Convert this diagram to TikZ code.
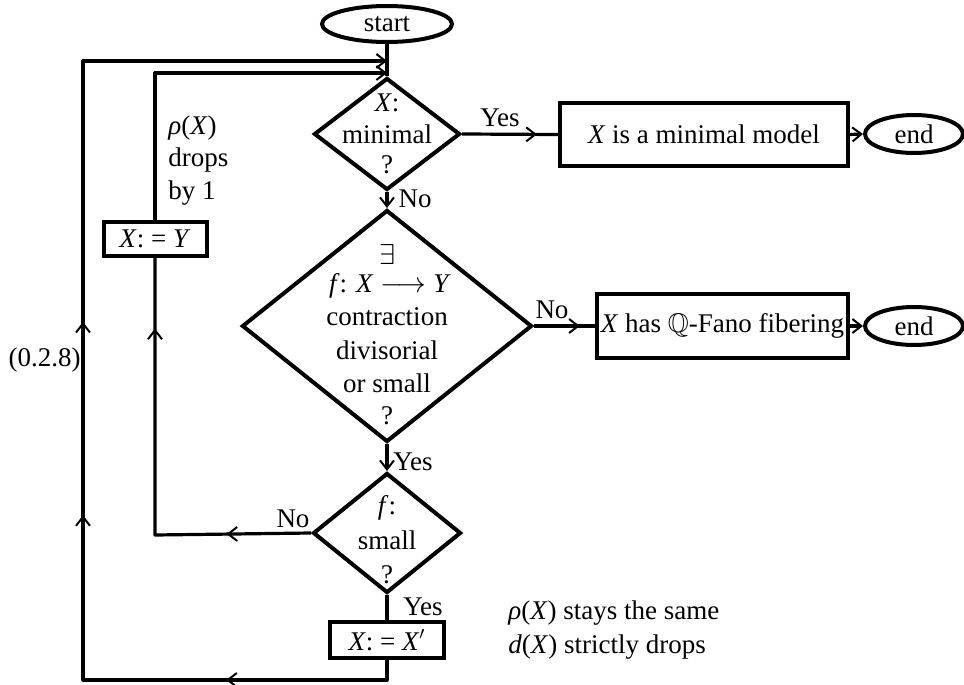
\documentclass[tikz,border=0pt]{standalone}
\usepackage{amssymb}
\usepackage{fontspec}
\setmainfont{Liberation Serif}
\usetikzlibrary{shapes.geometric,arrows.meta,decorations.markings}

\tikzset{
  outline/.style={draw, line width=2pt},
  decision/.style={outline, diamond, inner sep=0pt},
  terminal/.style={outline, ellipse, inner sep=0pt},
  stepbox/.style={outline, rectangle, inner sep=0pt},
  conn/.style={line width=1.6pt, line join=round},
  tip/.tip={Straight Barb[length=4.5pt,width=7pt,line width=1pt]},
  midtip/.style={postaction={decorate, decoration={markings,
      mark=at position #1 with {\arrow{tip}}}}},
  txt/.style={inner sep=0pt},
}

\begin{document}
\begin{tikzpicture}[x=0.5pt, y=-0.5pt, font=\fontsize{13.5}{16}\selectfont]
\useasboundingbox (0,0) rectangle (964,685);

% main column
\node[terminal, minimum width=65pt, minimum height=18pt] (start) at (387,24) {start};
\node[decision, minimum width=73pt, minimum height=56pt] (d1) at (387,134) {};
\node[decision, minimum width=145pt, minimum height=116pt] (d2) at (387,326) {};
\node[decision, minimum width=74pt, minimum height=60pt] (d3) at (387,533) {};
\node[stepbox, minimum width=57pt, minimum height=18pt] (xxp) at (387,640) {\textit{X}: = \textit{X}$'$};
\node[stepbox, minimum width=51.5pt, minimum height=17pt] (xy) at (155,239) {\textit{X}: = \textit{Y}};

% results on the right
\node[stepbox, minimum width=144pt, minimum height=31.5pt] (box1) at (704,134.5) {\textit{X} is a minimal model\hspace{8pt}};
\node[terminal, minimum width=49pt, minimum height=19pt] (end1) at (914,134) {end};
\node[stepbox, minimum width=125.5pt, minimum height=32pt] (box2) at (722.5,326) {\textit{X} has $\mathbb{Q}$-Fano fibering};
\node[terminal, minimum width=49pt, minimum height=19pt] (end2) at (914,326) {end};

% texts inside the decisions
\node[txt] (t1a) at (387,103) {\textit{X}:};
\node[txt] (t1b) at (387,134) {minimal};
\node[txt] (t1c) at (387,165) {?};
\node[txt] (t2a) at (387,254) {$\exists$};
\node[txt] (t2b) at (390,286) {\textit{f}: \textit{X} $\longrightarrow$ \textit{Y}};
\node[txt] (t2c) at (387,317) {contraction};
\node[txt] (t2d) at (387,350) {divisorial};
\node[txt] (t2e) at (387,383) {or small};
\node[txt] (t2f) at (387,416) {?};
\node[txt] (t3a) at (387,508) {\textit{f}:};
\node[txt] (t3b) at (387,540) {small};
\node[txt] (t3c) at (387,575) {?};

% branch labels
\node[txt] (lyes1) at (500,118) {Yes};
\node[txt] (lno1) at (415,199) {No};
\node[txt] (lno2) at (552,310) {No};
\node[txt] (lyes2) at (413,462) {Yes};
\node[txt] (lno3) at (293,519) {No};
\node[txt] (lyes3) at (423,607) {Yes};

% side notes
\node[txt, anchor=west] (n1) at (168,128) {\textit{ρ}(\textit{X})};
\node[txt, anchor=west] (n2) at (168,160) {drops};
\node[txt, anchor=west] (n3) at (168,193) {by 1};
\node[txt, anchor=west] (n4) at (508,613) {\textit{ρ}(\textit{X}) stays the same};
\node[txt, anchor=west] (n5) at (508,647) {\textit{d}(\textit{X}) strictly drops};
\node[txt, anchor=east] (eq) at (81,360) {(0.2.8)};

% loop corners
\coordinate (oBL) at (83,680);
\coordinate (oTL) at (83,61);
\coordinate (oIn) at (387,61);
\coordinate (iBL) at (155,535);
\coordinate (iIn) at (387,73);

% connectors
\draw[conn] (start.south) -- (d1.north);
\draw[conn,-tip] (d1.south) -- (d2.north);
\draw[conn,-tip] (d2.south) -- (d3.north);
\draw[conn] (d3.south) -- (xxp.north);
\draw[conn, midtip=0.78] (d1.east) -- (box1.west);
\draw[conn,-tip] (box1.east) -- (end1.west);
\draw[conn, midtip=0.75] (d2.east) -- (box2.west);
\draw[conn,-tip] (box2.east) -- (end2.west);

% outer loop: rho stays, d drops
\draw[conn, -tip, midtip=0.145, midtip=0.392, midtip=0.547]
  (xxp.south) |- (oBL) -- (oTL) -- (oIn);
% inner loop: rho drops by one
\draw[conn, midtip=0.195, midtip=0.837] (d3.west) -- (iBL) -- (xy.south);
\draw[conn,-tip] (xy.north) |- (iIn);
\end{tikzpicture}
\end{document}
